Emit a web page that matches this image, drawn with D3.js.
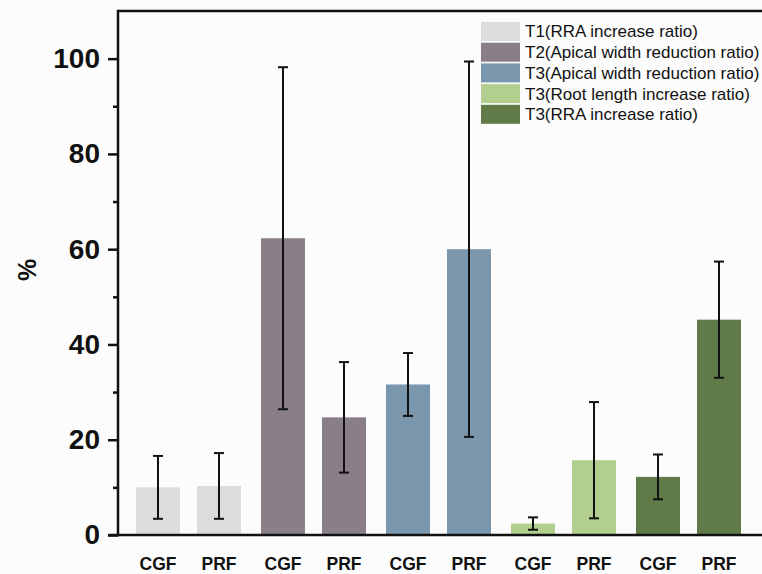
<!DOCTYPE html>
<html>
<head>
<meta charset="utf-8">
<script src="https://cdn.jsdelivr.net/npm/d3@7"></script>
<style>
  html, body { margin: 0; padding: 0; background: #fcfcfc; }
  svg { display: block; }
  text { font-family: "Liberation Sans", Arial, sans-serif; }
</style>
</head>
<body>
<svg id="chart" width="762" height="574"></svg>
<script>
// ---- data ----
const groups = [
  "T1(RRA increase ratio)",
  "T2(Apical width reduction ratio)",
  "T3(Apical width reduction ratio)",
  "T3(Root length increase ratio)",
  "T3(RRA increase ratio)"
];
const methods = ["CGF", "PRF"];
const meansCGF = [10.0, 62.3, 31.6, 2.4, 12.2];
const meansPRF = [10.3, 24.7, 60.0, 15.7, 45.2];
const errCGF = [6.6, 35.9, 6.6, 1.3, 4.7];
const errPRF = [6.9, 11.6, 39.4, 12.2, 12.2];
const colors = ["#dcdcdc", "#8a7f89", "#7a97ad", "#b3cf8f", "#607a48"];
const majorTicks = [0, 20, 40, 60, 80, 100];
const minorTicks = [10, 30, 50, 70, 90];

(function () {
const rows = [];
groups.forEach((g, i) => {
  rows.push({ group: i, method: "CGF", mean: meansCGF[i], err: errCGF[i] });
  rows.push({ group: i, method: "PRF", mean: meansPRF[i], err: errPRF[i] });
});

const svg = d3.select("#chart");
const mLeft = 118, mRight = 762, mTop = 11, mBottom = 535;

const y = d3.scaleLinear().domain([0, 110]).range([mBottom, mTop]);
const x0 = d3.scaleBand().domain(d3.range(groups.length)).range([126, 751]).padding(0);
const x1 = d3.scaleBand().domain(methods).range([0, x0.bandwidth()])
  .paddingInner(0.279).paddingOuter(0.164);

// bars
const gBars = svg.append("g");
gBars.selectAll("rect").data(rows).join("rect")
  .attr("x", d => x0(d.group) + x1(d.method))
  .attr("width", x1.bandwidth())
  .attr("y", d => y(d.mean))
  .attr("height", d => y(0) - y(d.mean))
  .attr("fill", d => colors[d.group]);

// error bars
const capW = 10;
const gErr = svg.append("g").attr("stroke", "#111").attr("stroke-width", 2);
rows.forEach(d => {
  const cx = x0(d.group) + x1(d.method) + x1.bandwidth() / 2;
  const y1 = y(d.mean + d.err), y2 = y(Math.max(0, d.mean - d.err));
  gErr.append("line").attr("x1", cx).attr("x2", cx).attr("y1", y1).attr("y2", y2);
  gErr.append("line").attr("x1", cx - capW / 2).attr("x2", cx + capW / 2).attr("y1", y1).attr("y2", y1);
  gErr.append("line").attr("x1", cx - capW / 2).attr("x2", cx + capW / 2).attr("y1", y2).attr("y2", y2);
});

// frame: top line
svg.append("line").attr("x1", mLeft).attr("x2", mRight).attr("y1", mTop).attr("y2", mTop)
  .attr("stroke", "#111").attr("stroke-width", 2.5);

// y axis
const yAxis = d3.axisLeft(y).tickValues(majorTicks).tickSize(10).tickPadding(8).tickFormat(d3.format("d"));
const gy = svg.append("g").attr("transform", `translate(${mLeft},0)`).call(yAxis);
gy.select(".domain").remove();
gy.selectAll(".tick line").attr("stroke", "#111").attr("stroke-width", 2.5);
gy.selectAll(".tick text").attr("fill", "#111").style("font-size", "28px").style("font-weight", "bold");
const minorAxis = d3.axisLeft(y).tickValues(minorTicks).tickSize(5).tickFormat("");
const gm = svg.append("g").attr("transform", `translate(${mLeft},0)`).call(minorAxis);
gm.select(".domain").remove();
gm.selectAll(".tick line").attr("stroke", "#111").attr("stroke-width", 2.5);
svg.append("line").attr("x1", mLeft).attr("x2", mLeft).attr("y1", mTop - 1.25).attr("y2", mBottom + 1.25)
  .attr("stroke", "#111").attr("stroke-width", 2.5);

// x axis line
svg.append("line").attr("x1", mLeft - 10).attr("x2", mRight).attr("y1", mBottom).attr("y2", mBottom)
  .attr("stroke", "#111").attr("stroke-width", 2.5);

// x labels
svg.append("g").selectAll("text").data(rows).join("text")
  .attr("x", d => x0(d.group) + x1(d.method) + x1.bandwidth() / 2)
  .attr("y", 570)
  .attr("text-anchor", "middle")
  .style("font-size", "17.5px").style("font-weight", "bold").attr("fill", "#111")
  .text(d => d.method);

// y label
svg.append("text")
  .attr("transform", "translate(36,270) rotate(-90)")
  .attr("text-anchor", "middle")
  .style("font-size", "25px").style("font-weight", "bold").attr("fill", "#111")
  .text("%");

// legend
const lg = svg.append("g");
groups.forEach((g, i) => {
  const ly = 22 + i * 20.7;
  lg.append("rect").attr("x", 481).attr("y", ly).attr("width", 39).attr("height", 19).attr("fill", colors[i]);
  lg.append("text").attr("x", 525).attr("y", ly + 9.5).attr("dy", "0.35em")
    .style("font-size", "17px").attr("fill", "#111").text(g);
});
})();
</script>
</body>
</html>
